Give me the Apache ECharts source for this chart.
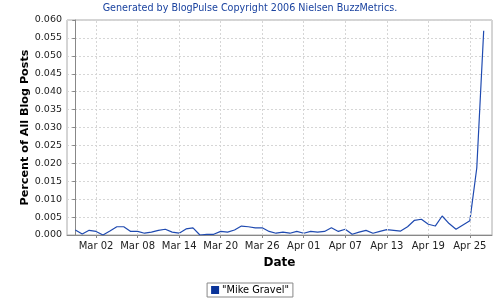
<!DOCTYPE html>
<html><head><meta charset="utf-8">
<script src="https://cdn.jsdelivr.net/npm/echarts@6/dist/echarts.min.js"></script>
<style>html,body{margin:0;padding:0;background:#fff}#c{width:500px;height:300px}</style>
</head><body><div id="c"></div>
<script>
const dates = ['Feb 27','Feb 28','Mar 01','Mar 02','Mar 03','Mar 04','Mar 05','Mar 06','Mar 07','Mar 08',
 'Mar 09','Mar 10','Mar 11','Mar 12','Mar 13','Mar 14','Mar 15','Mar 16','Mar 17','Mar 18',
 'Mar 19','Mar 20','Mar 21','Mar 22','Mar 23','Mar 24','Mar 25','Mar 26','Mar 27','Mar 28',
 'Mar 29','Mar 30','Mar 31','Apr 01','Apr 02','Apr 03','Apr 04','Apr 05','Apr 06','Apr 07',
 'Apr 08','Apr 09','Apr 10','Apr 11','Apr 12','Apr 13','Apr 14','Apr 15','Apr 16','Apr 17',
 'Apr 18','Apr 19','Apr 20','Apr 21','Apr 22','Apr 23','Apr 24','Apr 25','Apr 26','Apr 27'];
const values = [0.0014,0.0003,0.0013,0.0010,0.0000,0.0011,0.0023,0.0023,0.0010,0.0010,
 0.0005,0.0008,0.0013,0.0016,0.0008,0.0005,0.0017,0.0020,0.0000,0.0002,
 0.0002,0.0010,0.0008,0.0014,0.0025,0.0023,0.0020,0.0020,0.0010,0.0005,
 0.0008,0.0005,0.0010,0.0005,0.0010,0.0008,0.0010,0.0020,0.0010,0.0016,
 0.0002,0.0008,0.0013,0.0005,0.0010,0.0015,0.0013,0.0011,0.0023,0.0041,
 0.0044,0.0030,0.0025,0.0053,0.0032,0.0016,0.0028,0.0040,0.0187,0.0570];
const tickLabels = ['Mar 02','Mar 08','Mar 14','Mar 20','Mar 26','Apr 01','Apr 07','Apr 13','Apr 19','Apr 25'];
const seriesName = '"Mike Gravel"';
const titleText = 'Generated by BlogPulse Copyright 2006 Nielsen BuzzMetrics.';

const tickIdx = tickLabels.map(l => dates.indexOf(l));
const font = 'DejaVu Sans';
const gridLine = {color:'#d6d6d6',type:[2,2],width:1};
const chart = echarts.init(document.getElementById('c'), null, {renderer:'canvas'});
chart.setOption({
  animation:false,
  title:{text:titleText,left:'center',top:3,padding:0,textStyle:{fontFamily:font,fontSize:9.6,fontWeight:'normal',color:'#1c44a0'}},
  grid:{left:67,right:8,top:20,bottom:65,show:true,borderColor:'#aaa',borderWidth:1,backgroundColor:'#fff'},
  legend:{bottom:3,left:'center',icon:'rect',itemWidth:8,itemHeight:8,itemGap:4,
    borderColor:'#888',borderWidth:1,padding:[2,4,2,4],
    textStyle:{fontFamily:font,fontSize:9.8,color:'#000',padding:[0,0,0,-2]},
    data:[{name:seriesName,itemStyle:{color:'#0a3399'}}]},
  xAxis:{type:'value',min:-1.2,max:60.2,name:'Date',nameLocation:'middle',nameGap:22,
    nameTextStyle:{fontFamily:font,fontSize:12,fontWeight:'bold',color:'#000'},
    axisLine:{lineStyle:{color:'#888'}},
    axisTick:{show:true,length:3,lineStyle:{color:'#888'},customValues:tickIdx},
    axisLabel:{customValues:tickIdx,fontFamily:font,fontSize:10,color:'#222',margin:6,
      formatter:v=>dates[Math.round(v)]},
    splitLine:{show:false}},
  yAxis:{type:'value',min:0,max:0.06,interval:0.005,name:'Percent of All Blog Posts',nameLocation:'middle',nameGap:36,
    nameMoveOverlap:false,
    nameTextStyle:{fontFamily:font,fontSize:11.2,fontWeight:'bold',color:'#000'},
    axisLine:{show:true,lineStyle:{color:'#888'}},
    axisTick:{show:true,length:3,lineStyle:{color:'#888'}},
    axisLabel:{fontFamily:font,fontSize:9.5,color:'#222',margin:5,formatter:v=>v.toFixed(3)},
    splitLine:{show:true,lineStyle:gridLine}},
  series:[
    {type:'line',z:1,data:[],silent:true,
      markLine:{silent:true,symbol:'none',label:{show:false},lineStyle:gridLine,animation:false,
        data:tickIdx.map(i=>({xAxis:i}))}},
    {name:seriesName,type:'line',z:3,showSymbol:false,symbol:'none',
    lineStyle:{color:'#1f4ab0',width:1.2},itemStyle:{color:'#0a3399'},
    data:values.map((v,i)=>[i,v])}]
});
</script></body></html>
